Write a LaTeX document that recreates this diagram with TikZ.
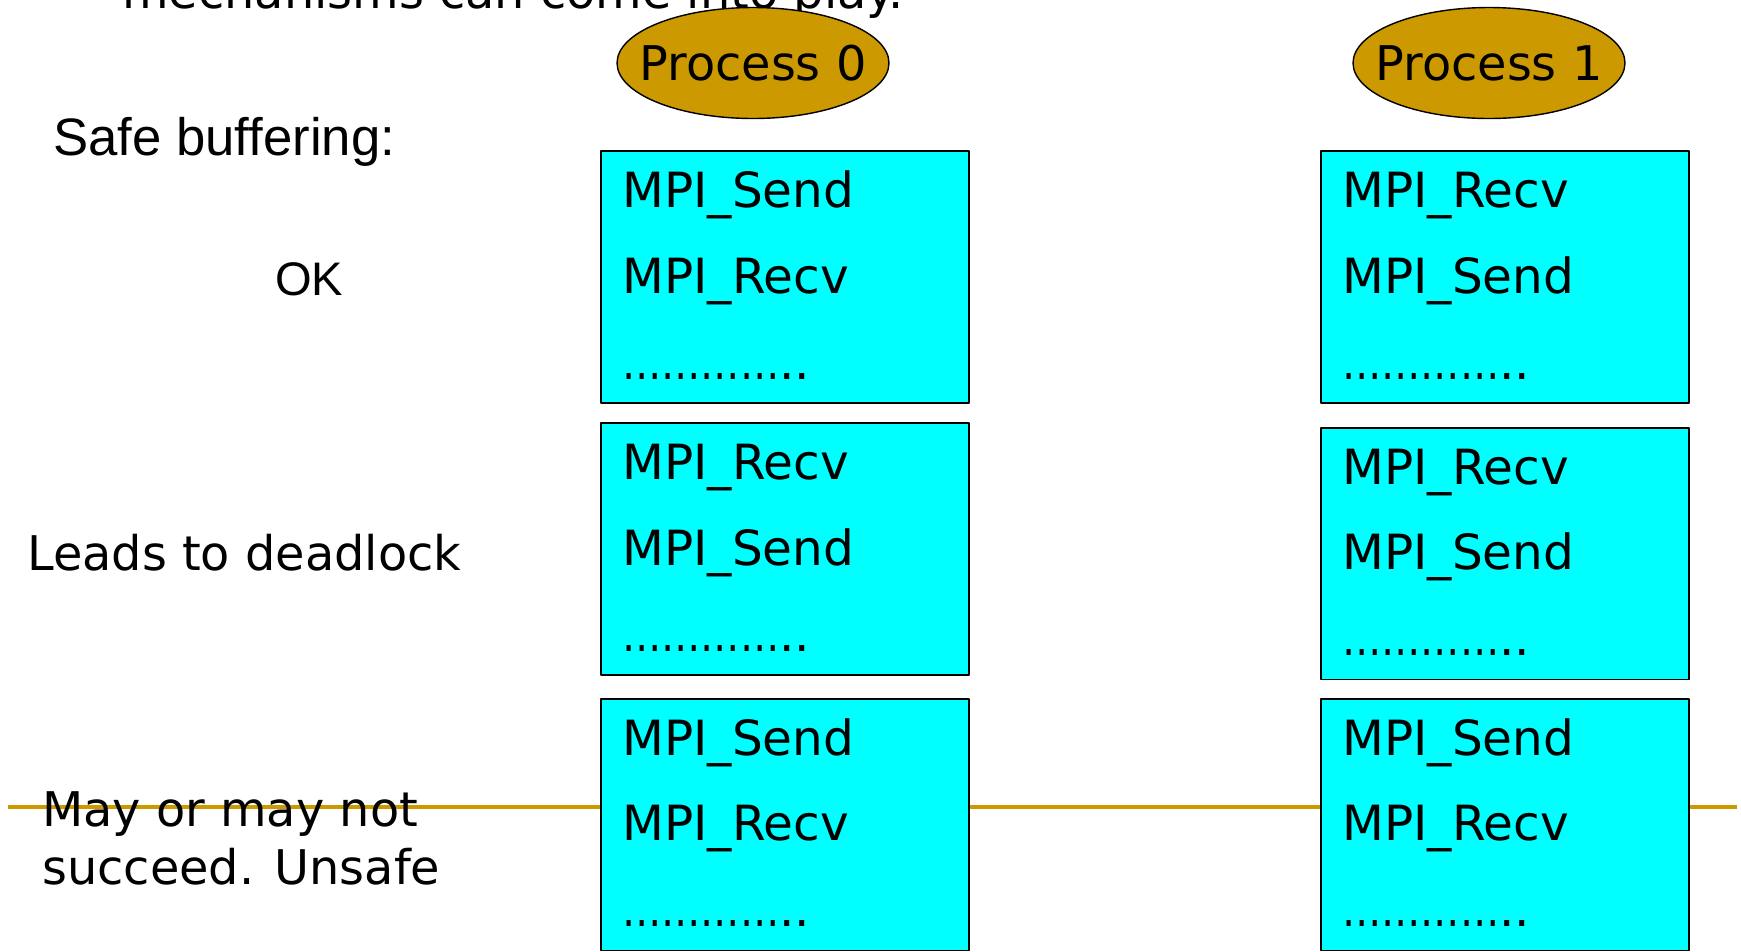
\documentclass[tikz,border=0pt]{standalone}
\usepackage{fontspec}
\setmainfont{DejaVu Sans}
\newfontfamily\arialfont{Liberation Sans}
\usetikzlibrary{shapes.geometric,calc}
\definecolor{procgold}{HTML}{CC9900}
\definecolor{blkcyan}{HTML}{00FFFF}
\begin{document}
\begin{tikzpicture}[
		x=0.02cm,y=-0.02cm,
		line cap=round,
		line join=round,
		verd/.style={inner sep=0,font=\fontsize{27.2}{32}\selectfont},
		proc/.style={ellipse,draw=black,line width=0.8pt,fill=procgold,minimum width=5.44cm,minimum height=2.22cm,inner sep=0,font=\fontsize{27.2}{32}\selectfont},
		blk/.style={rectangle,draw=black,line width=1.1pt,fill=blkcyan,minimum width=7.36cm,minimum height=5.04cm,inner sep=0},
		calls/.style={anchor=base west,align=left,inner sep=0,font=\fontsize{27.6}{48.8}\selectfont},
		sep/.style={draw=procgold,line width=2pt,line cap=butt}
		]
		\useasboundingbox (0,0) rectangle (1741,951);
		\clip (0,0) rectangle (1741,951);
		% line of the slide, behind the boxes
		\coordinate (l0) at (8,807);
		\coordinate (l1) at (1737,807);
		\draw[sep] (l0) -- (l1);
		\node[verd,anchor=base west] (hdr) at (122,8) {mechanisms can come into play.};
		\node[proc] (p0) at (753,63) {\makebox[0pt]{Process 0}};
		\node[proc] (p1) at (1489,63) {\makebox[0pt]{Process 1}};
		\node[anchor=base west,inner sep=0,font=\arialfont\fontsize{30}{36}\selectfont] (safe) at (53,155) {Safe buffering:};
		\node[anchor=base west,inner sep=0,font=\arialfont\fontsize{26.8}{32}\selectfont] (ok) at (275,295) {OK};
		\node[verd,anchor=base west] (dead) at (27,570) {Leads to deadlock};
		% base of a two line node is its last line
		\node[verd,anchor=base west,align=left,font=\fontsize{27.2}{32.5}\selectfont] (unsafe) at (42,884) {May or may not\\succeed. Unsafe};
		% the six boxes
		\node[blk] (a0) at (785,277) {};
		\node[blk] (b0) at (785,549) {};
		\node[blk] (c0) at (785,824.5) {};
		\node[blk] (a1) at (1505,277) {};
		\node[blk] (b1) at (1505,553.5) {};
		\node[blk] (c1) at (1505,824.5) {};
		\node[calls] (ta0) at ($(a0.north west)+(22,229)$) {MPI\_Send\\MPI\_Recv\\\scalebox{0.81}[1]{…………}..};
		\node[calls] (tb0) at ($(b0.north west)+(22,229)$) {MPI\_Recv\\MPI\_Send\\\scalebox{0.81}[1]{…………}..};
		\node[calls] (tc0) at ($(c0.north west)+(22,229)$) {MPI\_Send\\MPI\_Recv\\\scalebox{0.81}[1]{…………}..};
		\node[calls] (ta1) at ($(a1.north west)+(22,229)$) {MPI\_Recv\\MPI\_Send\\\scalebox{0.81}[1]{…………}..};
		\node[calls] (tb1) at ($(b1.north west)+(22,229)$) {MPI\_Recv\\MPI\_Send\\\scalebox{0.81}[1]{…………}..};
		\node[calls] (tc1) at ($(c1.north west)+(22,229)$) {MPI\_Send\\MPI\_Recv\\\scalebox{0.81}[1]{…………}..};
		\end{tikzpicture}
\end{document}
